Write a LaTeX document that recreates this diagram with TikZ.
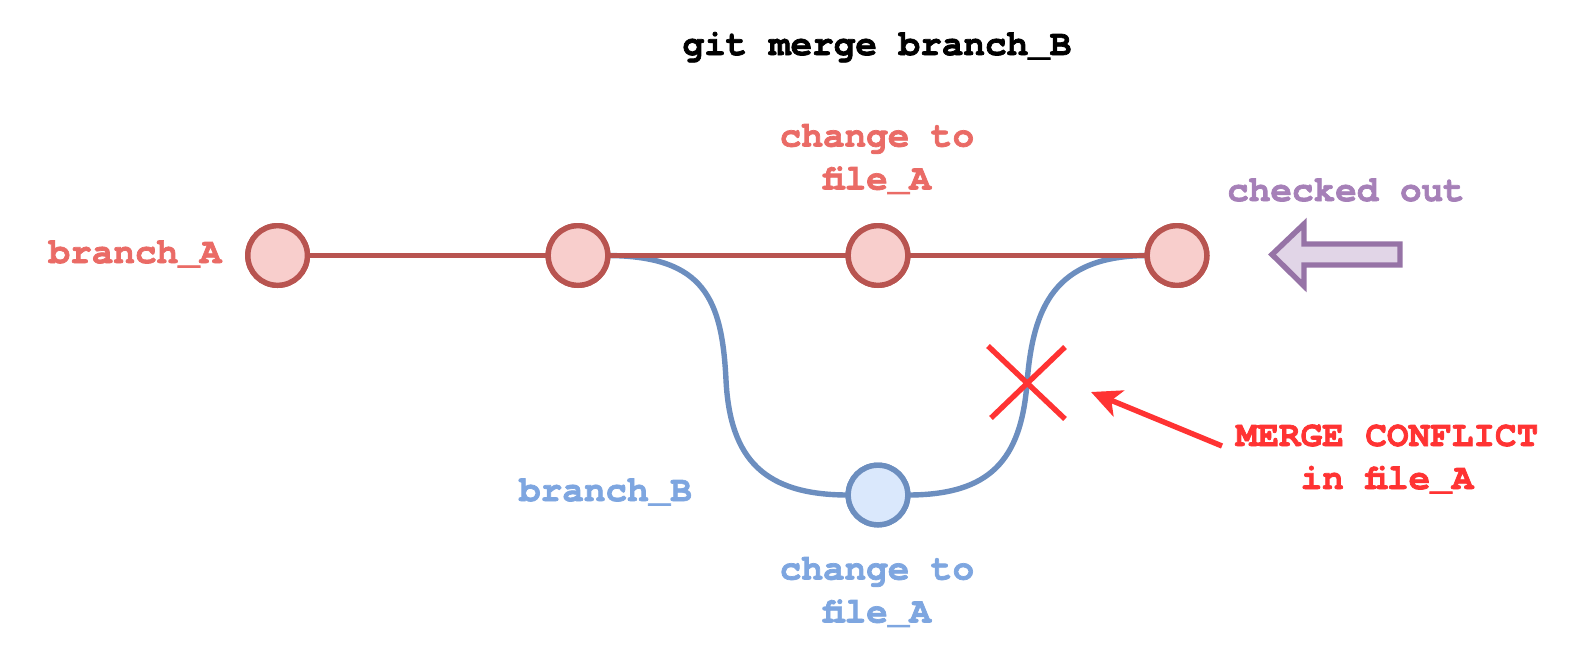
\documentclass[tikz,border=0pt]{standalone}
\usepackage{fontspec}
\setmainfont{TeX Gyre Cursor}[BoldFeatures={FakeBold=2}]
\usetikzlibrary{arrows.meta}
\definecolor{redS}{HTML}{B85450}
\definecolor{redF}{HTML}{F8CECC}
\definecolor{bluS}{HTML}{6C8EBF}
\definecolor{bluF}{HTML}{DAE8FC}
\definecolor{redT}{HTML}{EA6B66}
\definecolor{bluT}{HTML}{7EA6E0}
\definecolor{purT}{HTML}{A680B8}
\definecolor{purS}{HTML}{9673A6}
\definecolor{purF}{HTML}{E1D5E7}
\definecolor{conf}{HTML}{FF3333}
\begin{document}
\begin{tikzpicture}[x=0.5pt,y=-0.5pt,
  commit/.style={circle,line width=2.7pt,minimum size=29.8pt,inner sep=0pt,outer sep=0pt},
  rcommit/.style={commit,draw=redS,fill=redF},
  bcommit/.style={commit,draw=bluS,fill=bluF},
  lbl/.style={font=\fontsize{18pt}{21.5pt}\selectfont\bfseries,inner sep=0pt,align=center},
  redline/.style={draw=redS,line width=2.7pt},
  blueline/.style={draw=bluS,line width=2.7pt},
]
\useasboundingbox (0,0) rectangle (1577,659);
% nodes
\node[rcommit] (n1) at (277.6,255.5) {};
\node[rcommit] (n2) at (578,255.5) {};
\node[rcommit] (n3) at (878,255.5) {};
\node[rcommit] (n4) at (1177,255.5) {};
\node[bcommit] (nb) at (878,495) {};
\coordinate (m1) at (726,380);
\coordinate (m2) at (1027,383);
% blue curves (behind)
\path[blueline] (n2.east) .. controls (705,256) and (722,300) .. (m1)
  .. controls (730,460) and (765,495) .. (nb.west);
\path[blueline] (nb.east) .. controls (990,495) and (1021,460) .. (m2)
  .. controls (1033,306) and (1055,256) .. (n4.west);
\path[redline] (n1) -- (n2) -- (n3) -- (n4);
% redraw nodes on top
\node[rcommit] at (n1) {};
\node[rcommit] at (n2) {};
\node[rcommit] at (n3) {};
\node[rcommit] at (n4) {};
\node[bcommit] at (nb) {};
% texts
\node[lbl,anchor=base] (title) at (877,55) {git merge branch\_B};
\node[lbl,text=redT] (ct1) at (877,159) {change to\\file\_A};
\node[lbl,text=bluT] (ct2) at (877,592) {change to\\file\_A};
\node[lbl,text=redT,anchor=base] (ba) at (135,263) {branch\_A};
\node[lbl,text=bluT,anchor=base] (bb) at (605.5,501) {branch\_B};
\node[lbl,text=purT,anchor=base] (co) at (1346,201) {checked out};
\node[lbl,text=conf] (mc) at (1387,459) {MERGE CONFLICT\\in file\_A};
% cross
\coordinate (x1) at (988,346);
\coordinate (x2) at (1065,419);
\coordinate (x3) at (1065,347);
\coordinate (x4) at (991,418);
\draw[conf,line width=2.7pt] (x1) -- (x2) (x3) -- (x4);
% conflict arrow
\coordinate (at) at (1091,392);
\coordinate (as) at (1222,446);
\draw[conf,line width=2.7pt,-{Stealth[length=15pt,width=14pt,inset=4pt]}] (as) -- (at);
% checked out block arrow
\draw[draw=purS,fill=purF,line width=2.7pt,line join=miter]
  (1272,254.5) -- (1304,224) -- (1304,244) -- (1400,244) -- (1400,265)
  -- (1304,265) -- (1304,286) -- cycle;
\end{tikzpicture}
\end{document}
